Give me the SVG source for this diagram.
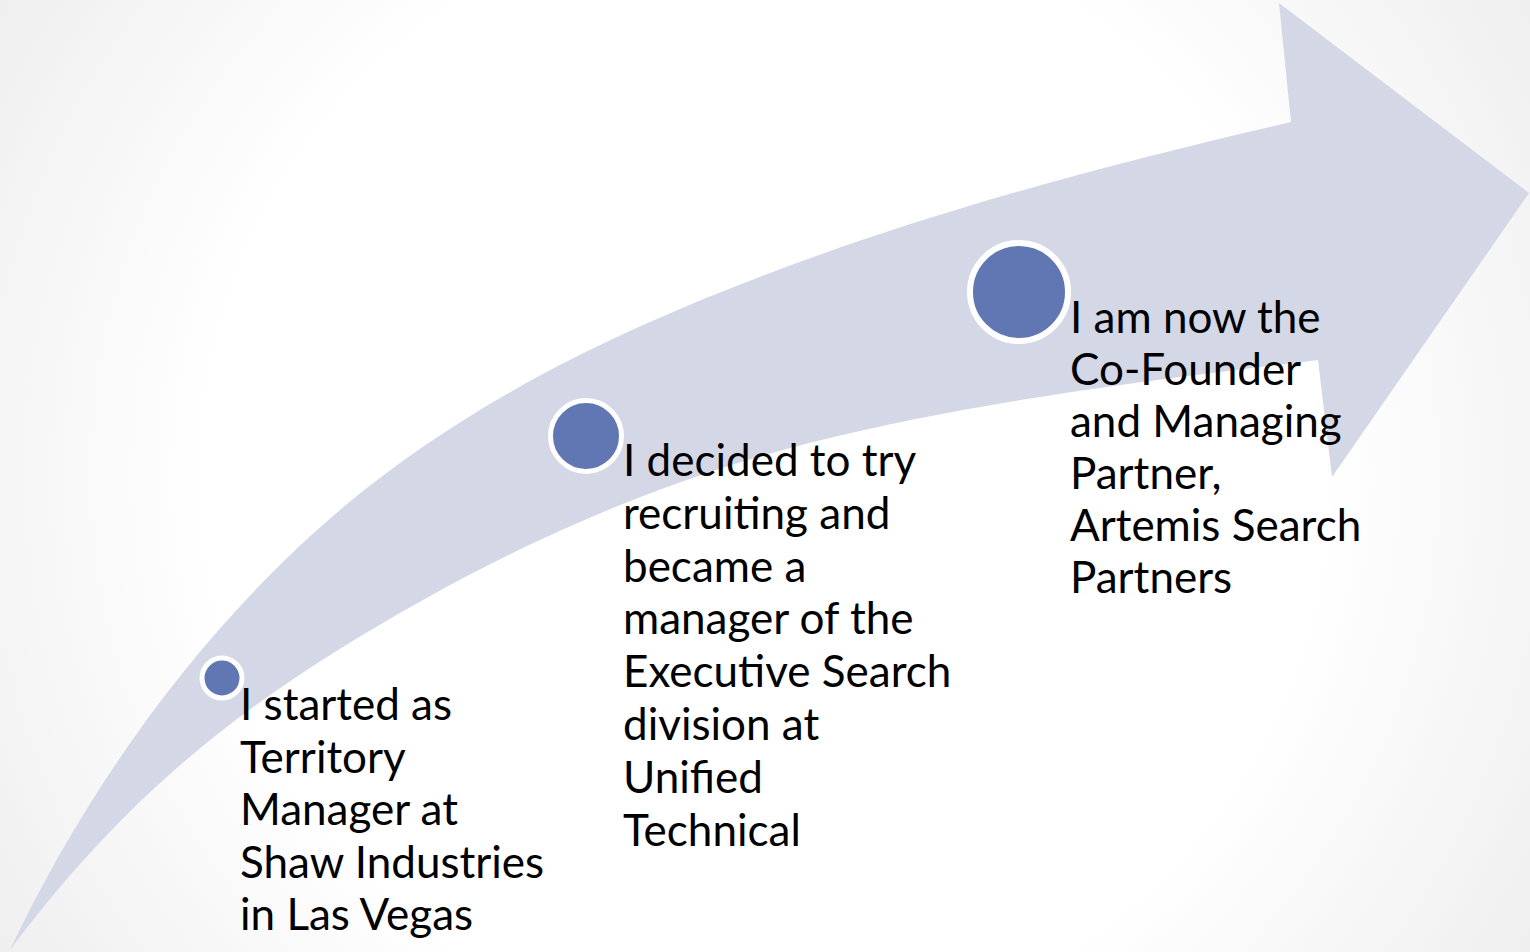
<svg xmlns="http://www.w3.org/2000/svg" width="1530" height="952" viewBox="0 0 1530 952">
<defs>
<radialGradient id="bg" gradientUnits="userSpaceOnUse" cx="765" cy="476" r="900">
<stop offset="0.62" stop-color="#FFFFFF"/>
<stop offset="1" stop-color="#EFEFEF"/>
</radialGradient>
<style>
.arrow{fill:#D3D7E6;}
.dot{fill:#6177B4;stroke:#FFFFFF;}
.lbl{font-family:Lato,"Open Sans","Liberation Sans",sans-serif;font-size:44px;fill:#000000;}
</style>
</defs>
<rect x="0" y="0" width="1530" height="952" fill="url(#bg)"/>
<g id="arrow">
<path class="arrow" d="M10,950 C84,794 188.5,645.7 317,530 C414.3,442.4 530.1,374.8 650,322 C855,231.7 1072.8,172.4 1291,122 L1279,3 L1529,193 L1332,477 L1318,360 C1147,380.6 975.8,401.2 809,443 C674.2,476.8 544.3,532.2 423,600 C248.4,697.6 130,790 10,950 Z"/>
</g>
<g id="node1">
<circle class="dot" cx="222" cy="678" r="20" stroke-width="5"/>
<text class="lbl" x="240" y="720">I started as<tspan x="240" dy="52.5">Territory</tspan><tspan x="240" dy="52.5">Manager at</tspan><tspan x="240" dy="52.5">Shaw Industries</tspan><tspan x="240" dy="52.5">in Las Vegas</tspan></text>
</g>
<g id="node2">
<circle class="dot" cx="586" cy="436" r="35.5" stroke-width="5"/>
<text class="lbl" x="623" y="476">I decided to try<tspan x="623" dy="52.8">recruiting and</tspan><tspan x="623" dy="52.8">became a</tspan><tspan x="623" dy="52.8">manager of the</tspan><tspan x="623" dy="52.8">Executive Search</tspan><tspan x="623" dy="52.8">division at</tspan><tspan x="623" dy="52.8">Unified</tspan><tspan x="623" dy="52.8">Technical</tspan></text>
</g>
<g id="node3">
<circle class="dot" cx="1019" cy="292" r="49" stroke-width="6"/>
<text class="lbl" x="1070" y="333">I am now the<tspan x="1070" dy="52">Co-Founder</tspan><tspan x="1070" dy="52">and Managing</tspan><tspan x="1070" dy="52">Partner,</tspan><tspan x="1070" dy="52">Artemis Search</tspan><tspan x="1070" dy="52">Partners</tspan></text>
</g>
<g id="connectors"></g>
</svg>
